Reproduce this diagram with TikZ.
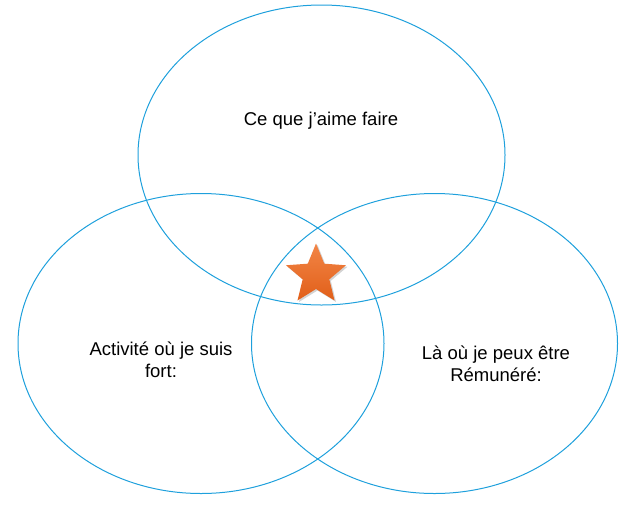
\documentclass[tikz,border=0pt]{standalone}
\usepackage{fontspec}
\setmainfont{Liberation Sans}
\usetikzlibrary{shapes.geometric,shadows}
\definecolor{ringblue}{RGB}{30,160,220}
\definecolor{starorange}{RGB}{240,112,38}
\definecolor{stardark}{RGB}{225,95,25}
\tikzset{
  ring/.style={draw=ringblue, line width=1pt},
  label/.style={font=\fontsize{18.5}{22}\selectfont, align=center},
}
\begin{document}
\begin{tikzpicture}[x=1pt, y=-1pt]
				\useasboundingbox (0,0) rectangle (628,512);
				\draw [ring] (321.5,155) ellipse (183.5 and 150);
				\draw [ring] (201,343.5) ellipse (183 and 150);
				\draw [ring] (434.5,343.5) ellipse (183 and 150);
				\node [label] (love) at (321,121) {Ce que j’aime faire};
				\node [label] (strong) at (161,360) {Activité où je suis\\fort:};
				\node [label] (paid) at (496,364) {Là où je peux être\\Rémunéré:};
				\node [star, star points=5, star point ratio=2.25, minimum size=63pt, inner sep=0pt,
					top color=starorange!85!white, bottom color=stardark, draw=none,
					drop shadow={shadow xshift=1.5pt, shadow yshift=-1.5pt, opacity=0.35}] (star) at (316,275) {};
			\end{tikzpicture}
\end{document}
